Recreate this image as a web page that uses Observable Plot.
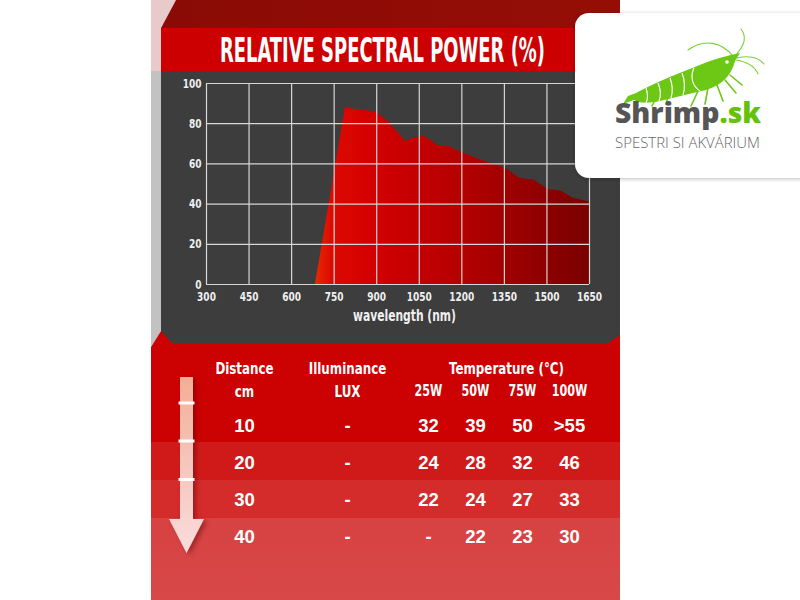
<!DOCTYPE html>
<html>
<head>
<meta charset="utf-8">
<script src="https://cdn.jsdelivr.net/npm/d3@7"></script>
<script src="https://cdn.jsdelivr.net/npm/@observablehq/plot@0.6"></script>
<style>
  html, body { margin: 0; padding: 0; background: #ffffff; }
  #page { position: relative; width: 800px; height: 600px; overflow: hidden; background: #ffffff; }
  .abs { position: absolute; left: 0; top: 0; }
  #chart { position: absolute; left: 151px; top: 71px; }
  #table { position: absolute; left: 151px; top: 345px; }
</style>
</head>
<body>
<div id="page">
  <svg class="abs" id="bg" width="800" height="600">
    <defs>
      <linearGradient id="topBand" x1="0" x2="1" y1="0" y2="0">
        <stop offset="0" stop-color="#8a0b05"/>
        <stop offset="1" stop-color="#950e06"/>
      </linearGradient>
      <linearGradient id="row4" x1="0" x2="0" y1="0" y2="1">
        <stop offset="0" stop-color="#d74242"/>
        <stop offset="1" stop-color="#d84848"/>
      </linearGradient>
    </defs>
    <polygon points="151,0 176,0 161,28 161,71 151,71" fill="#e8caca"/>
    <polygon points="176,0 620,0 620,28 161,28" fill="url(#topBand)"/>
    <rect x="161" y="28" width="459" height="43" fill="#cc0000"/>
    <text x="382.5" y="61.5" text-anchor="middle" textLength="325" lengthAdjust="spacingAndGlyphs"
      font-family="'DejaVu Sans Condensed','DejaVu Sans',sans-serif" font-weight="bold"
      font-size="34" fill="#ffffff">RELATIVE SPECTRAL POWER (%)</text>
    <polygon points="151,71 161,71 161,331 151,347" fill="#c2c2c2"/>
    <rect x="161" y="71" width="459" height="274" fill="#3d3d3d"/>
    <polygon points="151,347 161,331 172,343 608,343 620,335 620,442 151,442" fill="#cc0101"/>
    <rect x="151" y="442" width="469" height="38" fill="#d01a1a"/>
    <rect x="151" y="480" width="469" height="38" fill="#d42b2b"/>
    <rect x="151" y="518" width="469" height="82" fill="url(#row4)"/>
  </svg>
  <div id="chart"></div>
  <div id="table"></div>
  <svg class="abs" id="fg" width="800" height="600">
    <defs>
      <linearGradient id="arrowGrad" x1="0" x2="0" y1="0" y2="1">
        <stop offset="0" stop-color="#f4ad95"/>
        <stop offset="0.5" stop-color="#f6c6bd"/>
        <stop offset="1" stop-color="#fadcdc"/>
      </linearGradient>
      <filter id="arrowShadow" x="-50%" y="-20%" width="200%" height="140%">
        <feDropShadow dx="3" dy="2" stdDeviation="2.5" flood-color="#5a0000" flood-opacity="0.45"/>
      </filter>
      <filter id="logoShadow" x="-10%" y="-10%" width="130%" height="130%">
        <feDropShadow dx="0" dy="1" stdDeviation="2" flood-color="#000" flood-opacity="0.25"/>
      </filter>
    </defs>
    <g filter="url(#arrowShadow)">
      <path d="M180,377 L193,377 L193,519 L204,519 L186.5,553 L169,519 L180,519 Z" fill="url(#arrowGrad)"/>
    </g>
    <rect x="178.5" y="401.5" width="16" height="3" fill="#ffffff"/>
    <rect x="178.5" y="439.5" width="16" height="3" fill="#ffffff"/>
    <rect x="178.5" y="478" width="16" height="3" fill="#ffffff"/>
    <rect x="575" y="13" width="260" height="165" rx="14" ry="14" fill="#ffffff" filter="url(#logoShadow)"/>
    <g fill="none" stroke="#7ccf3a" stroke-width="1.1" stroke-linecap="round">
      <path d="M735,56 C745,45 747,37 741,29"/>
      <path d="M734,57 C722,42 704,38 688,50"/>
      <path d="M737,58 C750,55 759,58 764,64"/>
      <path d="M736,60 C749,62 755,67 758,74"/>
    </g>
    <g fill="none" stroke="#6cc814" stroke-width="1.6" stroke-linecap="round">
      <path d="M699,89 L691,106"/>
      <path d="M708,88 L705,104"/>
      <path d="M717,85 L723,101"/>
      <path d="M725,80 L736,93"/>
      <path d="M730,75 L742,85"/>
      <path d="M655,100 L652,106"/>
      <path d="M668,97 L666,104"/>
    </g>
    <path d="M623,104 L628,96 L636,93 C652,84 672,76 695,67 C711,60 725,56 740,53 L735,61 C732,74 723,85 706,90 C690,94 675,97 660,101 C650,103 640,104 634,100 Z" fill="#6cc814"/>
    <g fill="none" stroke="#ffffff" stroke-width="1.2">
      <path d="M646,88 C648,94 648,99 646,103"/>
      <path d="M658,83 C661,90 661,96 659,101"/>
      <path d="M670,78 C673,86 673,92 671,98"/>
      <path d="M682,73 C685,81 685,89 683,95"/>
      <path d="M694,68 C690,76 692,86 700,91"/>
    </g>
    <circle cx="727" cy="62" r="1.8" fill="#ffffff"/>
    <text x="615" y="123" textLength="146" lengthAdjust="spacingAndGlyphs"
      font-family="'Open Sans','DejaVu Sans',sans-serif" font-weight="800" font-size="29"><tspan fill="#555555">Shrimp</tspan><tspan fill="#66c10a">.sk</tspan></text>
    <text x="615" y="148" textLength="145" lengthAdjust="spacingAndGlyphs"
      font-family="'Open Sans','DejaVu Sans',sans-serif" font-weight="300" font-size="14.5" fill="#666666">SPESTRI SI AKVÁRIUM</text>
  </svg>
</div>
<script>
// ---------- data ----------
const wavelength = [684, 790, 830, 870, 900, 940, 1003, 1030, 1060, 1075, 1115, 1155, 1195, 1230, 1265, 1290, 1350, 1405, 1455, 1505, 1550, 1590, 1650];
const power      = [0,   88,  87,  86.3, 85.7, 81, 71.2, 72.8, 73.6, 73.2, 69.2, 68.7, 65.9, 64,  62,   60.8, 58.2, 52.8, 51.9, 47.3, 46.5, 43,   41];
const xTicks = [300, 450, 600, 750, 900, 1050, 1200, 1350, 1500, 1650];
const yTicks = [0, 20, 40, 60, 80, 100];
const xLabel = "wavelength (nm)";

const distances = [10, 20, 30, 40];
const illuminance = ["-", "-", "-", "-"];
const watts = ["25W", "50W", "75W", "100W"];
const temp25W  = ["32", "24", "22", "-"];
const temp50W  = ["39", "28", "24", "22"];
const temp75W  = ["50", "32", "27", "23"];
const temp100W = [">55", "46", "33", "30"];
const headDistance = ["Distance", "cm"];
const headIllum = ["Illuminance", "LUX"];
const headTemp = "Temperature (°C)";

// ---------- helpers ----------
const narrow = "'DejaVu Sans Condensed','DejaVu Sans',sans-serif";
const valueFont = "'Liberation Sans','Arial',sans-serif";
function condense(svg, factor, test) {
  svg.querySelectorAll("text").forEach(t => {
    if (test && !test(t)) return;
    const L = t.getComputedTextLength();
    if (L > 0) {
      t.setAttribute("textLength", (L * factor).toFixed(2));
      t.setAttribute("lengthAdjust", "spacingAndGlyphs");
    }
  });
}

// ---------- chart ----------
const spectrum = wavelength.map((w, i) => ({w, p: power[i]}));

const chart = Plot.plot({
  width: 469,
  height: 274,
  marginLeft: 55,
  marginRight: 31,
  marginTop: 12,
  marginBottom: 61,
  style: {background: "transparent", color: "#f0f0f0", fontFamily: narrow, fontSize: "13px", fontWeight: "bold"},
  x: {domain: [300, 1650], ticks: xTicks, tickSize: 0, tickPadding: 7, tickFormat: d => String(d), label: null},
  y: {domain: [0, 100], ticks: yTicks, tickSize: 0, tickPadding: 5, label: null},
  marks: [
    Plot.areaY(spectrum, {x: "w", y: "p", fill: "url(#specGrad)"}),
    Plot.gridX(xTicks, {stroke: "#d6d6d6", strokeOpacity: 1, strokeWidth: 1.2}),
    Plot.gridY(yTicks, {stroke: "#d6d6d6", strokeOpacity: 1, strokeWidth: 1.2}),
    Plot.text([xLabel], {frameAnchor: "bottom", dx: 6.5, dy: 32, text: d => d, fill: "#f0f0f0", fontSize: 15.5, fontWeight: "bold", lineAnchor: "middle"})
  ]
});
const ns = "http://www.w3.org/2000/svg";
const defs = document.createElementNS(ns, "defs");
defs.innerHTML = `<linearGradient id="specGrad" x1="0" x2="1" y1="0" y2="0">
  <stop offset="0" stop-color="#e82a00"/>
  <stop offset="0.06" stop-color="#dc0a00"/>
  <stop offset="0.2" stop-color="#d40000"/>
  <stop offset="0.55" stop-color="#b30000"/>
  <stop offset="1" stop-color="#7a0000"/>
</linearGradient>`;
chart.insertBefore(defs, chart.firstChild);
document.getElementById("chart").appendChild(chart);
condense(chart, 0.77);

// ---------- table ----------
const cols = [temp25W, temp50W, temp75W, temp100W];
const cells = [];
watts.forEach((w, j) => distances.forEach((d, i) => cells.push({watt: w, dist: d, value: cols[j][i]})));

const headStyle = {textAnchor: "middle", lineAnchor: "middle", fill: "#ffffff", fontSize: 16.5, fontWeight: "bold"};
const valStyle = {fill: "#ffffff", fontSize: 18.5, fontWeight: "bold", fontFamily: valueFont};

const table = Plot.plot({
  width: 469,
  height: 255,
  margin: 0,
  style: {background: "transparent", color: "#ffffff", fontFamily: narrow},
  x: {type: "point", domain: watts, range: [276, 419], padding: 0, axis: null},
  y: {type: "point", domain: distances, range: [80, 193], padding: 0, axis: null},
  marks: [
    Plot.text(cells, {x: "watt", y: "dist", text: "value", ...valStyle}),
    Plot.text(distances, {y: d => d, text: d => String(d), frameAnchor: "left", dx: 93, textAnchor: "middle", ...valStyle}),
    Plot.text(distances, {y: d => d, text: (d, i) => illuminance[i], frameAnchor: "left", dx: 196, textAnchor: "middle", ...valStyle}),
    Plot.text(watts, {x: d => d, text: d => d, frameAnchor: "top", dy: 46, fill: "#ffffff", fontSize: 15.5, fontWeight: "bold", lineAnchor: "middle"}),
    Plot.text([headDistance[0]], {frameAnchor: "top-left", dx: 93, dy: 23, text: d => d, ...headStyle}),
    Plot.text([headDistance[1]], {frameAnchor: "top-left", dx: 93, dy: 46, text: d => d, ...headStyle}),
    Plot.text([headIllum[0]], {frameAnchor: "top-left", dx: 196, dy: 23, text: d => d, ...headStyle}),
    Plot.text([headIllum[1]], {frameAnchor: "top-left", dx: 196, dy: 46, text: d => d, ...headStyle}),
    Plot.text([headTemp], {frameAnchor: "top-left", dx: 355, dy: 23, text: d => d, ...headStyle})
  ]
});
document.getElementById("table").appendChild(table);
condense(table, 0.8, t => {
  const g = t.closest("[font-family]");
  return !(g && g.getAttribute("font-family").includes("Liberation"));
});
</script>
</body>
</html>
